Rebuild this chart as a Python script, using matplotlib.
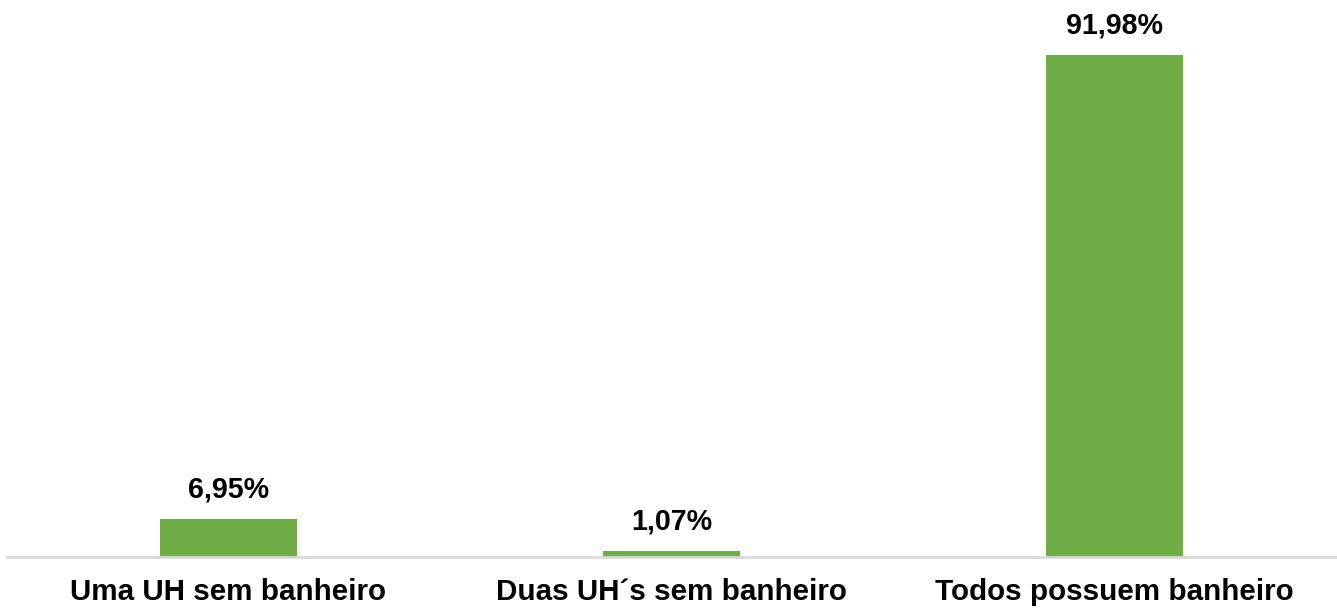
import matplotlib
matplotlib.use("Agg")
import matplotlib.pyplot as plt

categories = ["Uma UH sem banheiro", "Duas UH´s sem banheiro", "Todos possuem banheiro"]
values = [6.95, 1.07, 91.98]
labels = ["6,95%", "1,07%", "91,98%"]

plt.rcParams['font.family'] = ['Liberation Sans', 'DejaVu Sans']

fig = plt.figure(figsize=(13.37, 6.10), dpi=100)
ax = fig.add_axes([7/1337, 1 - 557/610, 1329/1337, 557/610])
x = range(len(categories))
ax.bar(x, values, width=0.31, color="#70AD47", zorder=2)
ax.set_xlim(-0.5, 2.5)
ax.set_ylim(0, 102)
for xi, v, lab in zip(x, values, labels):
    ax.annotate(lab, (xi, v), xytext=(0, 11), textcoords="offset points",
                ha="center", va="bottom", fontsize=20.6, fontweight="bold", color="#000000")
ax.set_xticks(list(x))
ax.set_xticklabels(categories, fontsize=21.3, fontweight="bold", color="#000000")
ax.tick_params(axis="x", length=0, pad=15)
ax.set_yticks([])
for s in ["top", "right", "left"]:
    ax.spines[s].set_visible(False)
ax.spines["bottom"].set_color("#D9D9D9")
ax.spines["bottom"].set_linewidth(2)
fig.savefig("out.png", dpi=100)
